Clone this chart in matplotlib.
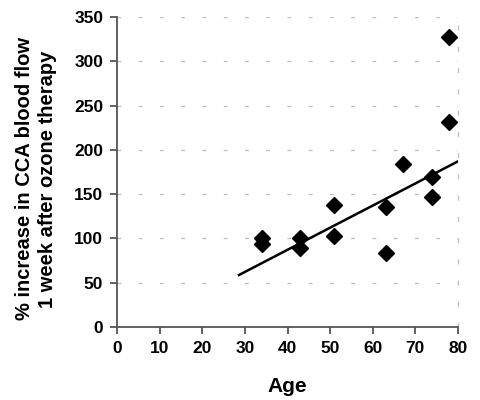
import matplotlib
matplotlib.use("Agg")
import matplotlib.pyplot as plt
import numpy as np

plt.rcParams['font.family'] = ['Liberation Sans', 'DejaVu Sans']

age = [34, 34, 43, 43, 51, 51, 63, 63, 67, 74, 74, 78, 78]
increase = [101, 94, 101, 89, 138, 103, 135, 83, 184, 169, 147, 232, 327]
trend_x = [28.6, 80]
trend_y = [58.7, 187]

x_ticks = list(range(0, 81, 10))
y_ticks = list(range(0, 351, 50))

fig = plt.figure(figsize=(4.8, 4.0), dpi=100)
ax = fig.add_axes([0.244, 0.1825, 0.71, 0.775])

grid_dash = (0, (3, 14))
for yv in y_ticks[1:]:
    ax.axhline(yv, color='#bdbdbd', lw=0.9, ls=grid_dash, zorder=0)

ax.plot(trend_x, trend_y, color='black', lw=1.8, zorder=2)
ax.plot(age, increase, 'D', color='black', ms=8, zorder=3)

ax.set_xlim(0, 80)
ax.set_ylim(0, 350)
ax.set_xticks(x_ticks)
ax.set_yticks(y_ticks)

ax.spines['top'].set_visible(False)
ax.spines['right'].set_color('#bdbdbd')
ax.spines['right'].set_linestyle(grid_dash)
ax.spines['right'].set_linewidth(0.9)
for s in ['left', 'bottom']:
    ax.spines[s].set_color('#555555')
    ax.spines[s].set_linewidth(1.3)

ax.tick_params(direction='out', length=5, width=1.3, color='#555555',
               labelsize=12.5, pad=5)
for lab in ax.get_xticklabels() + ax.get_yticklabels():
    lab.set_fontweight('bold')

ax.set_xlabel('Age', fontsize=15, fontweight='bold', labelpad=15)
ax.set_ylabel('% increase in CCA blood flow\n1 week after ozone therapy',
              fontsize=14.5, fontweight='bold', linespacing=1.25)
ax.yaxis.set_label_coords(-0.176, 0.478)

fig.savefig('out.png', dpi=100)
